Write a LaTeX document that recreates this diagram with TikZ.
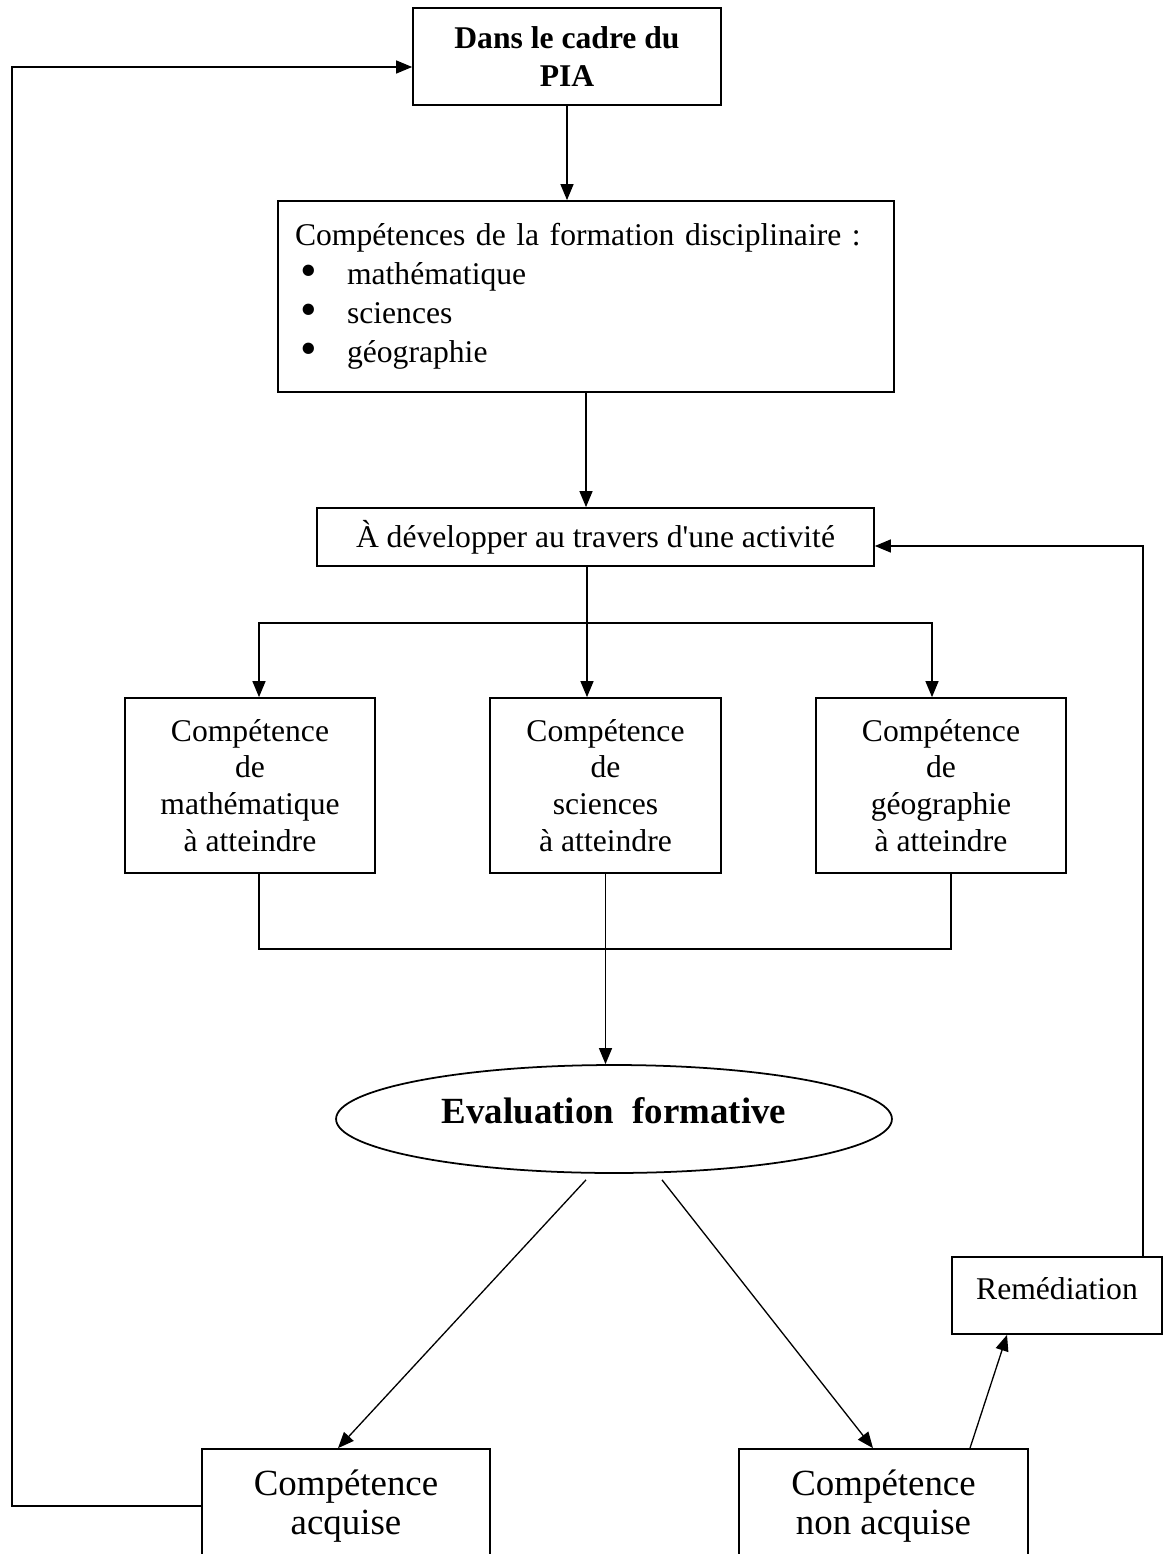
\documentclass[tikz,border=0pt]{standalone}
\usepackage{fontspec}
\usepackage{graphicx}
\setmainfont{Liberation Serif}
\newfontfamily\plainrm{Liberation Serif}
\usetikzlibrary{positioning, shapes.geometric, arrows.meta}

% bullet for the list of disciplines
\newcommand{\puce}{\hspace*{0.1cm}\makebox[0.94cm][l]{\smash{\raisebox{-0.05em}{\scalebox{1.5}{\textbullet}}}}}

\begin{document}
\begin{tikzpicture}[
    x=0.02cm, y=-0.02cm,
    every node/.style={font=\fontsize{18}{20.9}\selectfont},
    box/.style={rectangle, draw, line width=1pt, inner sep=0pt, align=center},
    bigbox/.style={box, font=\fontsize{21}{22}\selectfont},
    oval/.style={ellipse, draw, line width=1pt, inner sep=0pt,
        font=\bfseries\fontsize{21}{25}\selectfont},
    link/.style={line width=0.75pt},
    flow/.style={link, -{Triangle[length=0.32cm, width=0.26cm]}}
]
\useasboundingbox (0,0) rectangle (1163,1554);

% Top of the chain
\node[box, minimum width=6.16cm, minimum height=1.94cm,
      font=\bfseries\fontsize{18}{22}\selectfont] (pia) at (567,56.5) {Dans le cadre du\\PIA};
\node[box, align=left, text width=11.64cm, inner xsep=0.34cm, minimum height=3.82cm,
      font=\fontsize{18}{22.2}\selectfont] (comp) at (586,296.5)
      {Compétences de la formation disciplinaire :\\
       \puce mathématique\\
       \puce sciences\\
       \puce géographie};
\node[box, minimum width=11.14cm, minimum height=1.16cm] (activ) at (595.5,537)
      {À développer au travers d{\plainrm\symbol{39}}une activité};

% The three competences
\node[box, minimum width=5cm, minimum height=3.5cm] (math) at (250,785.5)
      {Compétence\\de\\mathématique\\à atteindre};
\node[box, minimum width=4.62cm, minimum height=3.5cm] (sci) at (605.5,785.5)
      {Compétence\\de\\sciences\\à atteindre};
\node[box, minimum width=5cm, minimum height=3.5cm] (geo) at (941,785.5)
      {Compétence\\de\\géographie\\à atteindre};

% Evaluation and outcomes
\node[oval, minimum width=11.12cm, minimum height=2.16cm, text depth=0.36cm] (eval) at (614,1119)
      {Evaluation~~formative};
\node[box, minimum width=4.2cm, minimum height=1.54cm, text depth=0.3cm] (remed) at (1057,1295.5)
      {Remédiation};
\node[bigbox, minimum width=5.76cm, minimum height=2.28cm] (acq) at (346,1506)
      {Compétence\\acquise};
\node[bigbox, minimum width=5.78cm, minimum height=2.28cm] (nonacq) at (883.5,1506)
      {Compétence\\non acquise};

% Spine
\draw[flow] (pia.south) -- (pia.south |- comp.north);
\draw[flow] (comp.south) -- (comp.south |- activ.north);
\coordinate (split) at (587,623);
\draw[link] (activ.south -| split) -- (split);
\draw[flow] (split) -| ([xshift=0.18cm]math.north);
\draw[flow] (split) -| ([xshift=-0.18cm]geo.north);
\draw[flow] (split) -- (split |- sci.north);

% Merge into the evaluation
\coordinate (merge) at (605,949);
\draw[link] ([xshift=0.18cm]math.south) |- (merge) -| ([xshift=0.2cm]geo.south);
\draw[flow] (sci.south) -- (sci.south |- eval.north);

% Outcomes
\draw[flow] ([xshift=-0.56cm, yshift=-0.12cm]eval.south) -- ([xshift=-0.16cm]acq.north);
\draw[flow] ([xshift=0.96cm, yshift=-0.12cm]eval.south) -- ([xshift=-0.21cm]nonacq.north);
\draw[flow] ([xshift=1.73cm]nonacq.north) -- ([xshift=-1cm]remed.south);

% Loops back
\coordinate (back) at (1143,546);
\draw[flow] (remed.north -| back) -- (back) -- (back -| activ.east);
\coordinate (redo) at (12,67);
\draw[flow] (acq.west) -| (redo) -- (redo -| pia.west);

\end{tikzpicture}
\end{document}
